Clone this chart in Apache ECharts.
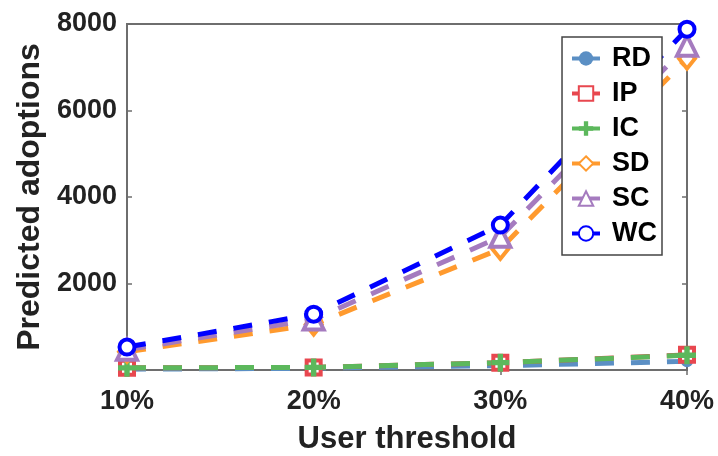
<!DOCTYPE html>
<html>
<head>
<meta charset="utf-8">
<script src="https://cdn.jsdelivr.net/npm/echarts@6/dist/echarts.min.js"></script>
<style>html,body{margin:0;padding:0;background:#fff}#c{width:718px;height:456px}</style>
</head>
<body>
<div id="c"></div>
<script>
var categories = ['10%', '20%', '30%', '40%'];
var RD = [20, 40, 100, 200];
var IP = [50, 60, 170, 350];
var IC = [50, 60, 170, 340];
var SD = [420, 1050, 2800, 7200];
var SC = [470, 1170, 3080, 7500];
var WC = [530, 1290, 3350, 7880];
var yTicks = [2000, 4000, 6000, 8000];

var plusPath = 'path://M3.5,0 L6.5,0 L6.5,3.5 L10,3.5 L10,6.5 L6.5,6.5 L6.5,10 L3.5,10 L3.5,6.5 L0,6.5 L0,3.5 L3.5,3.5 Z';

function mk(name, data, color, symbol, open, size) {
  return {
    name: name, type: 'line', data: data, clip: false,
    symbol: symbol, symbolSize: size, showSymbol: true,
    lineStyle: {color: color, width: 5, type: [19, 17]},
    itemStyle: open ? {color: '#fff', borderColor: color, borderWidth: 4} : {color: color, borderWidth: 0},
    emphasis: {disabled: true}
  };
}
var font = 'Liberation Sans, Arial, sans-serif';
var axisCol = '#6e6e6e';
var chart = echarts.init(document.getElementById('c'));
chart.setOption({
  animation: false,
  grid: {left: 127, right: 31, top: 24, bottom: 86, show: true, borderColor: axisCol, borderWidth: 2,
    containLabel: false, outerBoundsMode: 'none'},
  legend: {
    orient: 'vertical', right: 56, top: 37, itemWidth: 28, itemHeight: 18, itemGap: 8,
    padding: [8, 5, 8, 8],
    borderColor: '#444', borderWidth: 1.5, backgroundColor: '#fff',
    lineStyle: {type: 'solid', width: 4},
    textStyle: {fontFamily: font, fontWeight: 'bold', fontSize: 27, color: '#000', padding: [0, 0, 0, 7]},
    data: ['RD', 'IP', 'IC', 'SD', 'SC', 'WC']
  },
  xAxis: [{
    type: 'category', data: categories, boundaryGap: false,
    axisLine: {lineStyle: {color: axisCol, width: 2}},
    axisTick: {inside: true, alignWithLabel: true, length: 5, lineStyle: {color: axisCol, width: 1.5}},
    axisLabel: {fontFamily: font, fontWeight: 'bold', fontSize: 27, color: '#222', margin: 18},
    name: 'User threshold', nameLocation: 'middle', nameGap: 54,
    nameTextStyle: {fontFamily: font, fontWeight: 'bold', fontSize: 31, color: '#222'}
  }, {
    type: 'category', data: categories, boundaryGap: false, position: 'top',
    axisLine: {lineStyle: {color: axisCol, width: 2}},
    axisTick: {inside: true, alignWithLabel: true, length: 5, lineStyle: {color: axisCol, width: 1.5}},
    axisLabel: {show: false}
  }],
  yAxis: [{
    type: 'value', min: 0, max: 8000, interval: 2000,
    splitLine: {show: false},
    axisLine: {show: true, lineStyle: {color: axisCol, width: 2}},
    axisTick: {show: true, inside: true, length: 5, lineStyle: {color: axisCol, width: 1.5}},
    axisLabel: {fontFamily: font, fontWeight: 'bold', fontSize: 27, color: '#222', margin: 10,
      formatter: function (v) { return yTicks.indexOf(v) >= 0 ? String(v) : ''; }},
    name: 'Predicted adoptions', nameLocation: 'middle', nameGap: 81,
    nameTextStyle: {fontFamily: font, fontWeight: 'bold', fontSize: 32, color: '#222'}
  }, {
    type: 'value', min: 0, max: 8000, interval: 2000, position: 'right',
    splitLine: {show: false},
    axisLine: {show: true, lineStyle: {color: axisCol, width: 2}},
    axisTick: {show: true, inside: true, length: 5, lineStyle: {color: axisCol, width: 1.5}},
    axisLabel: {show: false}
  }],
  series: [
    mk('RD', RD, '#5b8fc4', 'circle', false, 12),
    mk('IP', IP, '#e8474f', 'rect', true, 14),
    mk('IC', IC, '#5cb85c', plusPath, false, 18),
    mk('SD', SD, '#ff9a2e', 'diamond', true, [16, 20]),
    mk('SC', SC, '#a57bbf', 'triangle', true, 20),
    mk('WC', WC, '#0000ff', 'circle', true, 15)
  ]
});
</script>
</body>
</html>
